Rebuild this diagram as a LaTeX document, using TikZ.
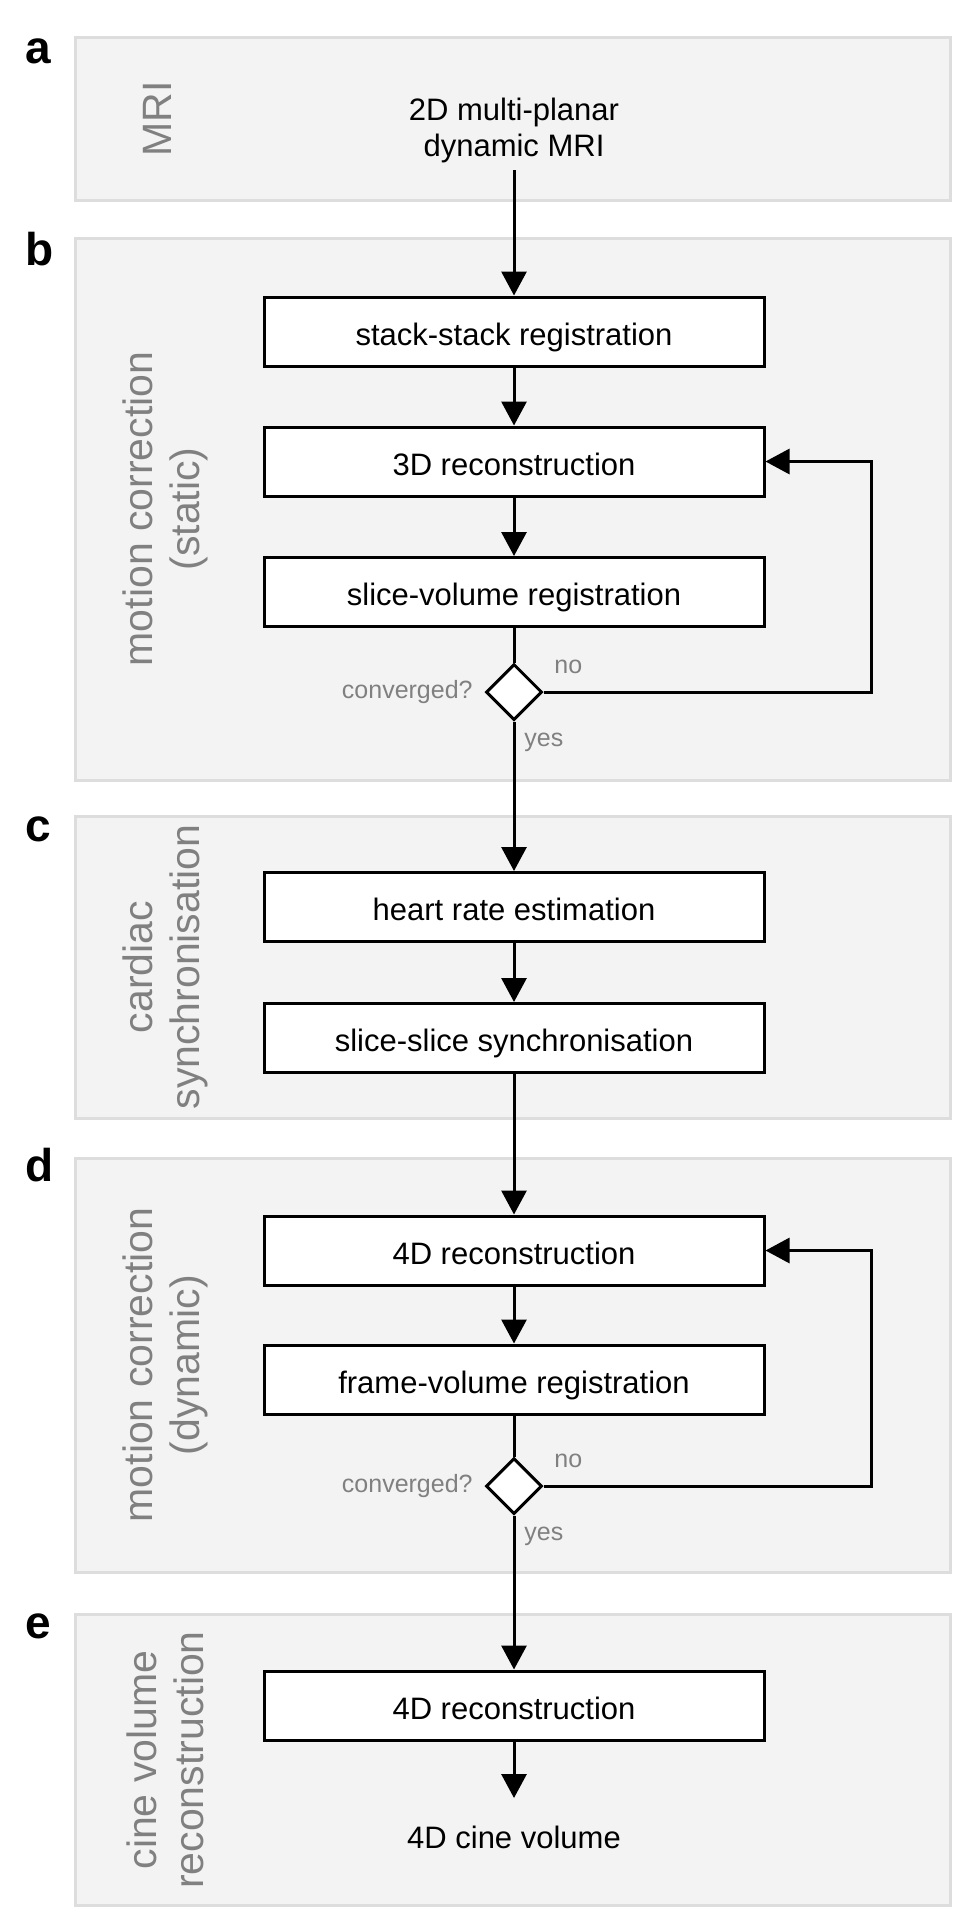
\documentclass[tikz,border=0pt]{standalone}
\usepackage{fontspec}
\setmainfont{Liberation Sans}
\usetikzlibrary{arrows.meta,shapes.geometric}
\definecolor{panelfill}{RGB}{243,243,243}
\definecolor{paneldraw}{RGB}{221,221,221}
\definecolor{labgray}{RGB}{128,128,128}
\begin{document}
\begin{tikzpicture}[x=0.5pt,y=-0.5pt,
  panel/.style={fill=panelfill,draw=paneldraw,line width=1.5pt},
  stepbox/.style={draw=black,fill=white,line width=1.5pt,minimum width=250pt,
    minimum height=34.5pt,inner sep=0pt,font=\fontsize{15.5pt}{18pt}\selectfont,
    text height=13.5pt,text depth=0pt},
  decision/.style={shape=diamond,draw=black,fill=white,line width=1.5pt,
    minimum width=28pt,minimum height=28pt,inner sep=0pt},
  plain/.style={inner sep=0pt,font=\fontsize{15.5pt}{18pt}\selectfont,align=center},
  letter/.style={inner sep=0pt,font=\fontsize{23pt}{23pt}\selectfont\bfseries},
  sidelab/.style={inner sep=0pt,rotate=90,align=center,text=labgray,
    font=\fontsize{20.5pt}{23.5pt}\selectfont},
  small/.style={inner sep=0pt,text=labgray,font=\fontsize{12.5pt}{14pt}\selectfont},
  conn/.style={draw=black,line width=1.5pt},
  arr/.style={conn,-{Triangle[length=12pt,width=12.5pt]}}
]
\useasboundingbox[fill=white] (0,0) rectangle (954,1912);

% panels
\draw[panel] (75.5,37.5) rectangle (950.5,200.5);
\draw[panel] (75.5,238.5) rectangle (950.5,780.5);
\draw[panel] (75.5,816.5) rectangle (950.5,1118.5);
\draw[panel] (75.5,1158.5) rectangle (950.5,1572.5);
\draw[panel] (75.5,1614.5) rectangle (950.5,1905.5);

% panel letters
\node[letter,anchor=base west] (la) at (25,63) {a};
\node[letter,anchor=base west] (lb) at (25,265) {b};
\node[letter,anchor=base west] (lc) at (25,841) {c};
\node[letter,anchor=base west] (ld) at (25,1181) {d};
\node[letter,anchor=base west] (le) at (25,1638) {e};

% side labels
\node[sidelab] (sa) at (157,119) {MRI};
\node[sidelab] (sb) at (165,509) {motion correction\\(static)};
\node[sidelab] (sc) at (165,967) {cardiac\\synchronisation};
\node[sidelab] (sd) at (165,1365) {motion correction\\(dynamic)};
\node[sidelab] (se) at (165,1760) {cine volume\\reconstruction};

% panel a
\node[plain] (mri) at (514,130) {2D multi-planar\\dynamic MRI};
\coordinate (mriout) at (514,170);

% panel b
\node[stepbox] (s1) at (514,331.5) {stack-stack registration};
\node[stepbox] (s2) at (514,461.5) {3D reconstruction};
\node[stepbox] (s3) at (514,592) {slice-volume registration};
\node[decision] (dia1) at (514,692) {};
\node[small,anchor=base east] (cv1) at (473,698) {converged?};
\node[small,anchor=base west] (no1) at (554,673) {no};
\node[small,anchor=base west] (yes1) at (524,746) {yes};

% panel c
\node[stepbox] (c1) at (514,907) {heart rate estimation};
\node[stepbox] (c2) at (514,1038) {slice-slice synchronisation};

% panel d
\node[stepbox] (d1) at (514,1250.5) {4D reconstruction};
\node[stepbox] (d2) at (514,1379.5) {frame-volume registration};
\node[decision] (dia2) at (514,1486) {};
\node[small,anchor=base east] (cv2) at (473,1492) {converged?};
\node[small,anchor=base west] (no2) at (554,1467) {no};
\node[small,anchor=base west] (yes2) at (524,1540) {yes};

% panel e
\node[stepbox] (e1) at (514,1705.5) {4D reconstruction};
\coordinate (cinein) at (514,1798);
\node[plain,anchor=base] (cine) at (514,1848) {4D cine volume};

\coordinate (fbx) at (871,0);

% connectors
\draw[arr] (mriout) -- (s1.north);
\draw[arr] (s1.south) -- (s2.north);
\draw[arr] (s2.south) -- (s3.north);
\draw[conn] (s3.south) -- (dia1.north);
\draw[arr] (dia1.east) -| (fbx |- s2.east) -- (s2.east);
\draw[arr] (dia1.south) -- (c1.north);
\draw[arr] (c1.south) -- (c2.north);
\draw[arr] (c2.south) -- (d1.north);
\draw[arr] (d1.south) -- (d2.north);
\draw[conn] (d2.south) -- (dia2.north);
\draw[arr] (dia2.east) -| (fbx |- d1.east) -- (d1.east);
\draw[arr] (dia2.south) -- (e1.north);
\draw[arr] (e1.south) -- (cinein);
\end{tikzpicture}
\end{document}
